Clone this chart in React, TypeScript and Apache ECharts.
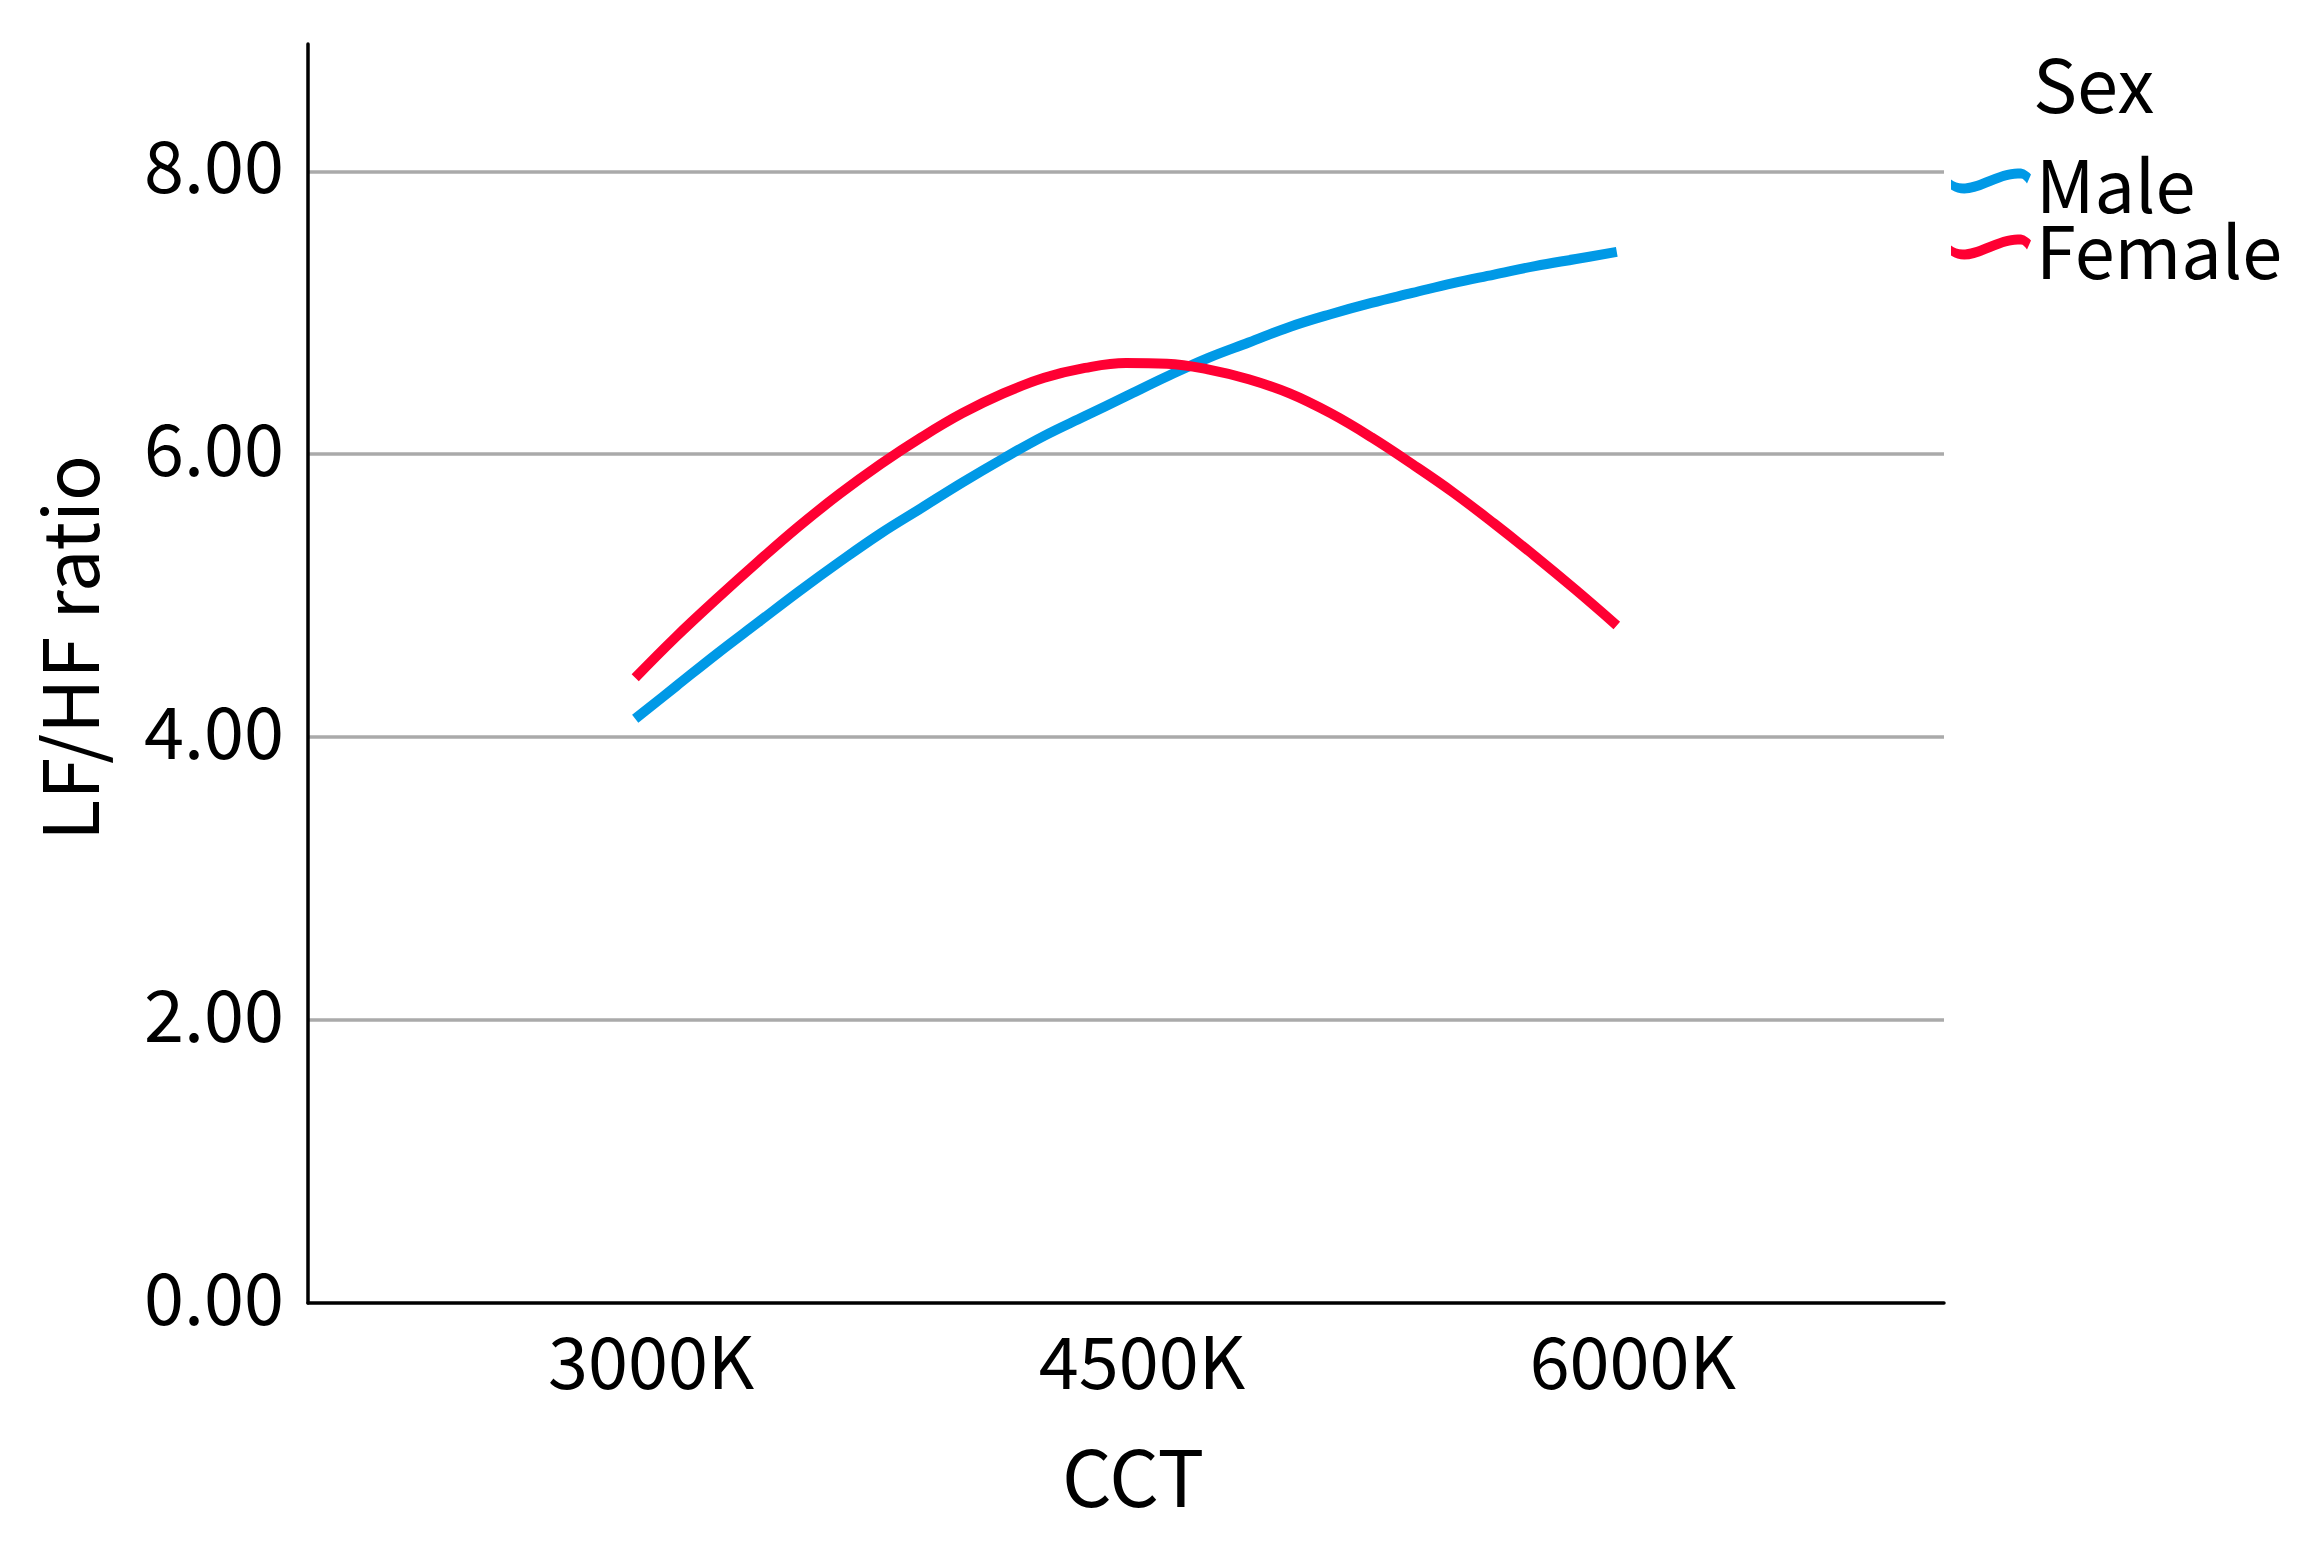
import React, { useEffect, useRef } from "react";
import * as echarts from "echarts";

const cctValues = [
  3000, 3125, 3250, 3375, 3500, 3625, 3750, 3875, 4000, 4125, 4250, 4375, 4500,
  4625, 4750, 4875, 5000, 5125, 5250, 5375, 5500, 5625, 5750, 5875, 6000,
];
const maleValues = [
  4.13, 4.36, 4.59, 4.81, 5.03, 5.24, 5.44, 5.62, 5.8, 5.97, 6.13, 6.27, 6.41,
  6.55, 6.68, 6.79, 6.9, 6.99, 7.07, 7.14, 7.21, 7.27, 7.33, 7.38, 7.43,
];
const femaleValues = [
  4.42, 4.71, 4.98, 5.24, 5.49, 5.72, 5.93, 6.12, 6.29, 6.43, 6.54, 6.61, 6.645,
  6.64, 6.6, 6.53, 6.43, 6.29, 6.12, 5.93, 5.73, 5.51, 5.28, 5.04, 4.79,
];
const xTickValues = [3000, 4500, 6000];
const yTickValues = [0, 2, 4, 6, 8];
const seriesNames = ["Male", "Female"];
const legendTitle = "Sex";
const xAxisTitle = "CCT";
const yAxisTitle = "LF/HF ratio";

const FONT = "Noto Sans CJK JP";
const wave =
  "path://M0,14 C8,21 20,18 34,12 C48,6 60,2 70,3 C75,4 78,7 80,9 L76,18 C74,15 72,13 70,13 C60,12 50,16 36,22 C22,28 10,31 0,24 Z";

export default function App() {
  const ref = useRef<HTMLDivElement>(null);
  useEffect(() => {
    if (!ref.current) return;
    const chart = echarts.init(ref.current, null, { renderer: "svg" });
    const toPairs = (vals: number[]) => cctValues.map((x, i) => [x, vals[i]]);
    chart.setOption({
      animation: false,
      backgroundColor: "#ffffff",
      textStyle: { fontFamily: FONT },
      grid: { left: 308, right: 365, top: 44, bottom: 246, containLabel: false },
      xAxis: {
        type: "value",
        min: 2000,
        max: 7000,
        axisLine: { show: true, lineStyle: { color: "#000", width: 3.5 } },
        axisTick: { show: false },
        splitLine: { show: false },
        axisLabel: {
          customValues: xTickValues,
          formatter: (v: number) => `${v}K`,
          fontSize: 72,
          fontFamily: FONT,
          color: "#000",
          margin: 18,
          padding: [0, 0, 0, 32],
        },
      },
      yAxis: {
        type: "value",
        min: 0,
        max: 8.9,
        interval: 2,
        axisLine: { show: true, lineStyle: { color: "#000", width: 3.5 } },
        axisTick: { show: false },
        splitLine: {
          show: true,
          showMinLine: false,
          showMaxLine: false,
          lineStyle: { color: "#aaaaaa", width: 3.5 },
        },
        axisLabel: {
          customValues: yTickValues,
          formatter: (v: number) => v.toFixed(2),
          fontSize: 72,
          fontFamily: FONT,
          color: "#000",
          margin: 24,
          verticalAlign: "bottom",
          lineHeight: 20,
        },
      },
      legend: {
        orient: "vertical",
        left: 1946,
        top: 140,
        itemWidth: 80,
        itemHeight: 28,
        itemGap: -6,
        textStyle: { fontSize: 72, lineHeight: 68, color: "#000", fontFamily: FONT },
        data: [
          { name: seriesNames[0], icon: wave },
          { name: seriesNames[1], icon: wave },
        ],
      },
      graphic: [
        {
          type: "text",
          left: 2033,
          top: 43,
          style: { text: legendTitle, fontSize: 74, fontFamily: FONT, fill: "#000" },
        },
        {
          type: "text",
          x: 66,
          y: 648,
          rotation: Math.PI / 2,
          style: {
            text: yAxisTitle,
            fontSize: 76,
            fontFamily: FONT,
            fill: "#000",
            align: "center",
            verticalAlign: "middle",
          },
        },
        {
          type: "text",
          x: 1133,
          y: 1473,
          style: {
            text: xAxisTitle,
            fontSize: 78,
            fontFamily: FONT,
            fill: "#000",
            align: "center",
            verticalAlign: "middle",
          },
        },
      ],
      series: [
        {
          name: seriesNames[0],
          type: "line",
          smooth: 0.4,
          showSymbol: false,
          symbol: "none",
          data: toPairs(maleValues),
          lineStyle: { color: "#0099e6", width: 10 },
          itemStyle: { color: "#0099e6" },
        },
        {
          name: seriesNames[1],
          type: "line",
          smooth: 0.4,
          showSymbol: false,
          symbol: "none",
          data: toPairs(femaleValues),
          lineStyle: { color: "#ff0033", width: 10 },
          itemStyle: { color: "#ff0033" },
        },
      ],
    });
    return () => chart.dispose();
  }, []);
  return (
    <div
      ref={ref}
      style={{ position: "fixed", left: 0, top: 0, width: 2309, height: 1549 }}
    />
  );
}
